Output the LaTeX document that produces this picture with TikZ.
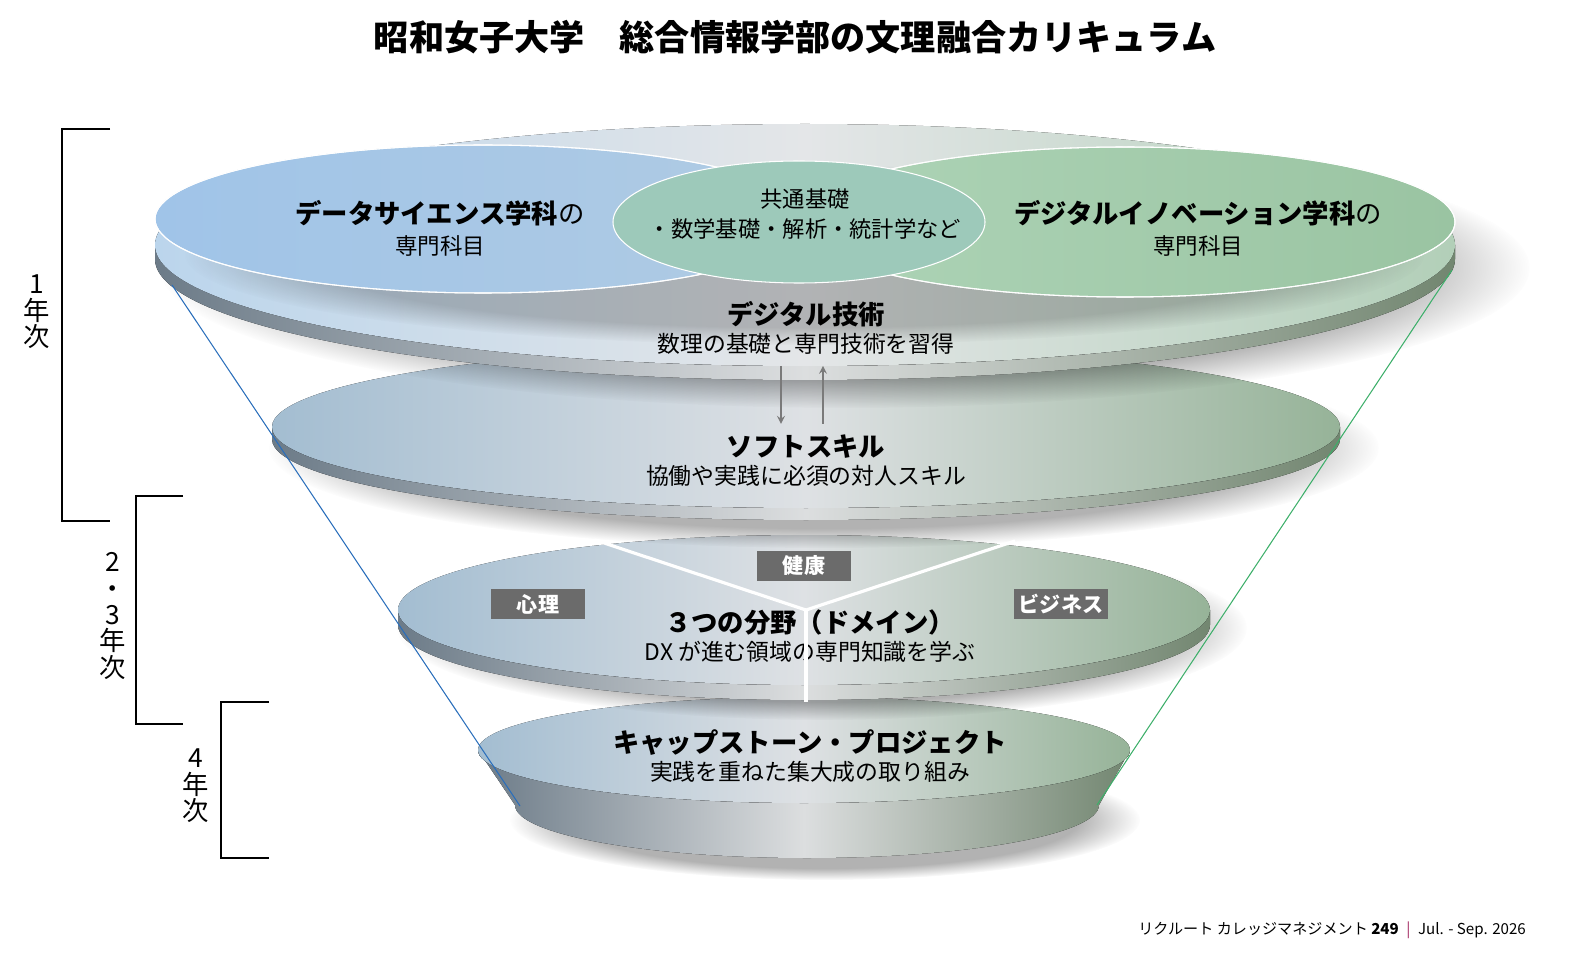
\documentclass[tikz,border=0pt]{standalone}
\usepackage{fontspec}
\setmainfont{Noto Sans CJK JP}
\usetikzlibrary{arrows,positioning,fadings}

\definecolor{dsblueL}{HTML}{A0C4E8}
\definecolor{dsblueR}{HTML}{B0CBE3}
\definecolor{digreenL}{HTML}{AED4B7}
\definecolor{digreenR}{HTML}{9AC4A2}
\definecolor{commonteal}{HTML}{9DC9BA}
\definecolor{firstL}{HTML}{BBD5EC}
\definecolor{firstM}{HTML}{E4E6E8}
\definecolor{firstR}{HTML}{B2CFB8}
\definecolor{topL}{HTML}{A3BDD1}
\definecolor{topM}{HTML}{DEE1E4}
\definecolor{topR}{HTML}{96B398}
\definecolor{rimL}{HTML}{6C7B88}
\definecolor{rimM}{HTML}{DCDEDF}
\definecolor{rimR}{HTML}{728670}
\definecolor{tagfill}{HTML}{6B6B6B}
\definecolor{arrowgray}{HTML}{7A7A7A}
\definecolor{funnelblue}{HTML}{2A6EBB}
\definecolor{funnelgreen}{HTML}{3DAF6A}
\definecolor{pipe}{HTML}{A0205A}

\begin{document}
\begin{tikzpicture}[x=0.02cm, y=-0.02cm,
    disctop/.style={left color=topL, right color=topR, middle color=topM},
    discrim/.style={left color=rimL, right color=rimR, middle color=rimM},
    softshadow/.style={fill=black, opacity=0.3, path fading=circle with fuzzy edge 20 percent},
    lens/.style={draw=white, line width=0.6pt},
    pair/.style={align=center, font=\fontsize{13}{16}\selectfont},
    bigpair/.style={align=center, font=\fontsize{12.8}{17.6}\selectfont},
    tag/.style={rectangle, fill=tagfill, text=white, minimum width=1.88cm, minimum height=0.62cm, inner sep=0pt, font=\fontsize{12}{14}\selectfont\bfseries},
    yeartxt/.style={align=center, font=\fontsize{15}{15}\selectfont},
    bracket/.style={line width=0.8pt},
    arrow/.style={->, >=stealth, line width=1pt, arrowgray},
    yline/.style={white, line width=1.8pt}
]
    \useasboundingbox (0,0) rectangle (1572,969);

    % タイトル
    \node[font=\fontsize{20}{24}\selectfont\bfseries] (title) at (795,37) {昭和女子大学　総合情報学部の文理融合カリキュラム};

    % 4年次の円盤
    \fill[softshadow] (825,820) ellipse[x radius=315, y radius=60];
    \fill[discrim] (478,750) -- (515,805) arc[start angle=180, end angle=0, x radius=292, y radius=53]
        -- (1130,750) arc[start angle=0, end angle=180, x radius=326, y radius=53] -- cycle;
    \fill[disctop] (804,750) ellipse[x radius=326, y radius=53];

    % 2・3年次の円盤
    \fill[softshadow] (822,628) ellipse[x radius=425, y radius=92];
    \fill[discrim] (398,610) -- (398,625) arc[start angle=180, end angle=0, x radius=406, y radius=75]
        -- (1210,610) arc[start angle=0, end angle=180, x radius=406, y radius=75] -- cycle;
    \fill[disctop] (804,610) ellipse[x radius=406, y radius=75];

    % 1年次（ソフトスキル）
    \fill[softshadow] (824,448) ellipse[x radius=555, y radius=100];
    \fill[discrim] (272,427) -- (272,439) arc[start angle=180, end angle=0, x radius=534, y radius=81]
        -- (1340,427) arc[start angle=0, end angle=180, x radius=534, y radius=81] -- cycle;
    \fill[disctop] (806,427) ellipse[x radius=534, y radius=81];

    % 1年次（デジタル技術）
    \fill[softshadow] (845,268) ellipse[x radius=685, y radius=140];
    \fill[discrim] (155,245) -- (155,259) arc[start angle=180, end angle=0, x radius=650, y radius=121]
        -- (1455,245) arc[start angle=0, end angle=180, x radius=650, y radius=121] -- cycle;
    \fill[left color=firstL, right color=firstR, middle color=firstM] (805,245) ellipse[x radius=650, y radius=121];
    \fill[softshadow, opacity=0.22] (805,255) ellipse[x radius=620, y radius=90];
    \fill[lens, left color=digreenL, right color=digreenR] (1125,222) ellipse[x radius=330, y radius=75];
    \fill[lens, left color=dsblueL, right color=dsblueR] (483,219) ellipse[x radius=328, y radius=74];
    \draw[lens] (483,219) ellipse[x radius=328, y radius=74];
    \draw[lens] (1125,222) ellipse[x radius=330, y radius=75];
    \fill[lens, fill=commonteal] (799,222) ellipse[x radius=186, y radius=61];

    % 学科と共通基礎
    \node[bigpair] (ds) at (440,228) {{\fontsize{15}{17.6}\selectfont\bfseries データサイエンス学科\mdseries の}\\専門科目};
    \node[bigpair] (di) at (1198,228) {{\fontsize{15}{17.6}\selectfont\bfseries デジタルイノベーション学科\mdseries の}\\専門科目};
    \node[bigpair, font=\fontsize{12.7}{17}\selectfont] (common) at (805,214) {共通基礎\\・数学基礎・解析・統計学など};

    % 各段の説明
    \node[pair] (tech) at (806,328) {{\fontsize{15}{16}\selectfont\bfseries デジタル技術}\\数理の基礎と専門技術を習得};
    \node[pair] (soft) at (806,461) {{\fontsize{15}{16}\selectfont\bfseries ソフトスキル}\\協働や実践に必須の対人スキル};
    \node[pair] (domain) at (810,636) {{\fontsize{15}{16}\selectfont\bfseries ３つの分野（ドメイン）}\\DX が進む領域の専門知識を学ぶ};
    \node[pair] (cap) at (810,756) {{\fontsize{15}{16}\selectfont\bfseries キャップストーン・プロジェクト}\\実践を重ねた集大成の取り組み};

    % 相互の矢印
    \draw[arrow] ([xshift=-0.5cm, yshift=-0.1cm]tech.south) -- ([xshift=-0.5cm, yshift=0.1cm]soft.north);
    \draw[arrow] ([xshift=0.34cm, yshift=0.1cm]soft.north) -- ([xshift=0.34cm, yshift=-0.1cm]tech.south);

    % 3つの分野の区切り
    \coordinate (hub) at (806,610);
    \coordinate (ylft) at (595,540);
    \coordinate (yrgt) at (1015,541);
    \coordinate (ydown) at (806,702);
    \draw[yline] (ylft) -- (hub) -- (yrgt);
    \draw[yline] (hub) -- (ydown);
    \node[tag] (health) at (804,566) {健康};
    \node[tag] (psych) at (538,604) {心理};
    \node[tag] (biz) at (1061,604) {ビジネス};

    % 漏斗の線
    \coordinate (fbtop) at (172,285);
    \coordinate (fbbot) at (520,806);
    \coordinate (fgtop) at (1452,270);
    \coordinate (fgbot) at (1097,805);
    \draw[funnelblue, line width=0.6pt] (fbtop) -- (fbbot);
    \draw[funnelgreen, line width=0.6pt] (fgtop) -- (fgbot);

    % 学年の括弧
    \draw[bracket] (110,129) -- (62,129) -- (62,521) -- (110,521);
    \draw[bracket] (183,496) -- (136,496) -- (136,724) -- (183,724);
    \draw[bracket] (269,702) -- (221,702) -- (221,858) -- (269,858);
    \node[yeartxt] (y1) at (37,312) {1\\年\\次};
    \node[yeartxt] (y23) at (113,616) {2\\・\\3\\年\\次};
    \node[yeartxt] (y4) at (196,786) {4\\年\\次};

    % 誌名
    \node[anchor=east, font=\fontsize{8.6}{10}\selectfont] (footer) at (1532,930)
        {リクルート カレッジマネジメント \textbf{249}\enspace{\color{pipe}|}\enspace Jul. - Sep. 2026};
\end{tikzpicture}
\end{document}
